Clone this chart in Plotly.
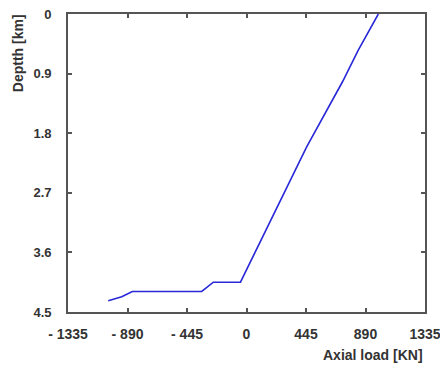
import plotly.graph_objects as go

# Data
axial_load = [986, 836, 717, 450, -45, -248, -335, -854, -933, -1034]
depth_km = [0, 0.544, 1.027, 2.005, 4.05, 4.05, 4.19, 4.19, 4.27, 4.33]

x_tickvals = [-1335, -890, -445, 0, 445, 890, 1335]
x_ticktext = ["- 1335", "- 890", "- 445", "0", "445", "890", "1335"]
y_tickvals = [0, 0.9, 1.8, 2.7, 3.6, 4.5]
y_ticktext = ["0", "0.9", "1.8", "2.7", "3.6", "4.5"]

font_family = "Liberation Sans, Arial, sans-serif"
axis_color = "#555555"
text_color = "#333333"

x_range = [x_tickvals[0], x_tickvals[-1]]
y_range = [y_tickvals[-1], y_tickvals[0]]

fig = go.Figure()
fig.add_trace(go.Scatter(
    x=axial_load, y=depth_km, mode="lines",
    line=dict(color="#2828d8", width=1.6),
    showlegend=False,
))

common_axis = dict(
    showgrid=False, zeroline=False, showline=True, linecolor=axis_color,
    linewidth=1.8, mirror="allticks", ticks="inside", ticklen=4, tickwidth=1.5,
    tickcolor=axis_color, automargin=False, ticklabeloverflow="allow",
)

fig.update_layout(
    width=440, height=361,
    margin=dict(l=60, r=23, t=6, b=57),
    paper_bgcolor="white", plot_bgcolor="white",
    xaxis=dict(range=x_range, tickvals=x_tickvals,
               ticktext=["<b>%s</b>" % t for t in x_ticktext],
               ticklabelstandoff=8,
               tickfont=dict(family=font_family, size=14, color=text_color),
               **common_axis),
    yaxis=dict(range=y_range, tickvals=y_tickvals,
               ticktext=["<b>%s</b>" % t for t in y_ticktext],
               ticklabelstandoff=12,
               tickfont=dict(family=font_family, size=13, color=text_color),
               **common_axis),
    annotations=[
        dict(text="<b>Axial load [KN]</b>", xref="paper", yref="paper",
             x=1.0, y=-0.145, xanchor="right", yanchor="middle", showarrow=False,
             font=dict(family=font_family, size=14, color=text_color)),
        dict(text="<b>Deptth [km]</b>", xref="paper", yref="paper",
             x=-0.141, y=1.005, xanchor="center", yanchor="top", textangle=-90,
             showarrow=False,
             font=dict(family=font_family, size=14, color=text_color)),
    ],
)

fig.write_html("out.html")
